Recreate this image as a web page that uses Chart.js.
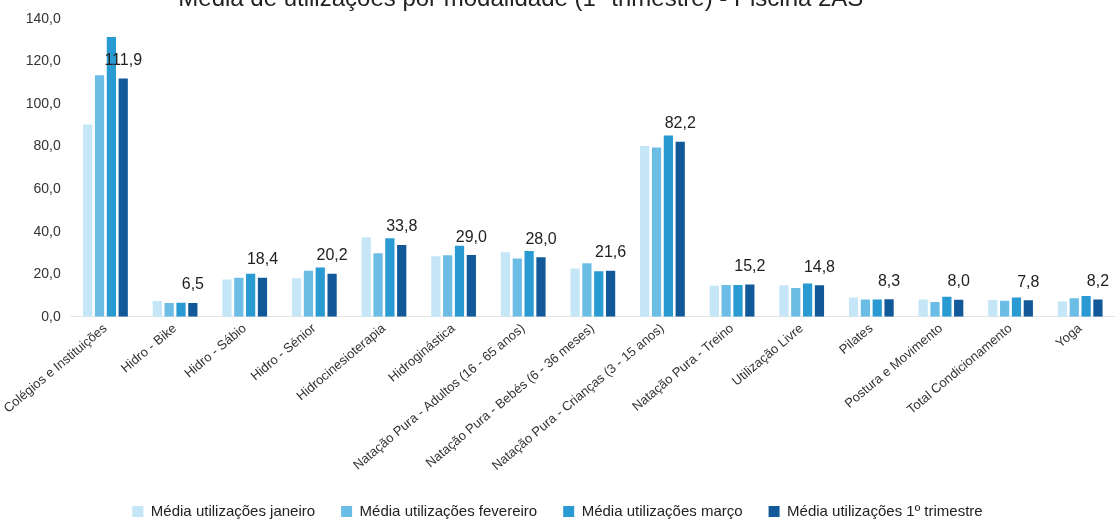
<!DOCTYPE html>
<html>
<head>
<meta charset="utf-8">
<script src="https://cdn.jsdelivr.net/npm/chart.js@4/dist/chart.umd.min.js"></script>
<style>
    html, body { margin: 0; padding: 0; background: #fff; }
    #wrap { width: 1115px; height: 519px; position: relative; }
</style>
</head>
<body>
<div id="wrap"><canvas id="usageChart"></canvas></div>
<script>
const categories = [
    'Colégios e Instituições',
    'Hidro - Bike',
    'Hidro - Sábio',
    'Hidro - Sénior',
    'Hidrocinesioterapia',
    'Hidroginástica',
    'Natação Pura - Adultos (16 - 65 anos)',
    'Natação Pura - Bebés (6 - 36 meses)',
    'Natação Pura - Crianças (3 - 15 anos)',
    'Natação Pura - Treino',
    'Utilização Livre',
    'Pilates',
    'Postura e Movimento',
    'Total Condicionamento',
    'Yoga'
];

const janeiro   = [90.3, 7.4, 17.6, 18.1, 37.4, 28.5, 30.3, 22.7, 80.2, 14.6, 14.8, 9.1, 8.1, 7.9, 7.2];
const fevereiro = [113.5, 6.5, 18.4, 21.6, 29.9, 28.9, 27.4, 25.2, 79.6, 15.0, 13.6, 8.1, 7.0, 7.6, 8.7];
const marco     = [131.5, 6.6, 20.3, 23.2, 36.9, 33.4, 30.9, 21.4, 85.2, 15.0, 15.7, 8.1, 9.5, 9.1, 9.8];
const trimestre = [111.9, 6.5, 18.4, 20.2, 33.8, 29.0, 28.0, 21.6, 82.2, 15.2, 14.8, 8.3, 8.0, 7.8, 8.2];

const seriesNames = [
    'Média utilizações janeiro',
    'Média utilizações fevereiro',
    'Média utilizações março',
    'Média utilizações 1º trimestre'
];

const yTicks = [0, 20, 40, 60, 80, 100, 120, 140];

const baseFont = '"Liberation Sans", Arial, sans-serif';

function fmt(v) {
    return Number(v).toFixed(1).replace('.', ',');
}

// labels only over the trimester bars
const valueLabels = {
    id: 'valueLabels',
    afterDatasetsDraw(chart) {
        const ctx = chart.ctx;
        const meta = chart.getDatasetMeta(3);
        ctx.save();
        ctx.font = '16px ' + baseFont;
        ctx.fillStyle = '#222';
        ctx.textAlign = 'center';
        ctx.textBaseline = 'bottom';
        meta.data.forEach((bar, i) => {
            ctx.fillText(fmt(trimestre[i]), bar.x, bar.y - 10);
        });
        ctx.restore();
    }
};

const ctx = document.getElementById('usageChart').getContext('2d');

new Chart(ctx, {
    type: 'bar',
    data: {
        labels: categories,
        datasets: [
            { label: seriesNames[0], data: janeiro,   backgroundColor: '#c4e6f7' },
            { label: seriesNames[1], data: fevereiro, backgroundColor: '#6cbde6' },
            { label: seriesNames[2], data: marco,     backgroundColor: '#2a9ad2' },
            { label: seriesNames[3], data: trimestre, backgroundColor: '#12599a' }
        ]
    },
    options: {
        responsive: true,
        maintainAspectRatio: false,
        animation: false,
        layout: { padding: { left: 0, right: 0, top: 0, bottom: -10 } },
        datasets: {
            bar: { categoryPercentage: 0.68, barPercentage: 0.78 }
        },
        plugins: {
            title: {
                display: true,
                // trailing spaces nudge the centred title left, like the original
                text: 'Média de utilizações por modalidade (1º trimestre) - Piscina 2AS\u00a0\u00a0\u00a0\u00a0\u00a0\u00a0\u00a0\u00a0\u00a0\u00a0\u00a0',
                color: '#222',
                font: { family: baseFont, size: 24, weight: 'normal' },
                padding: { top: -15, bottom: 5 }
            },
            legend: {
                position: 'bottom',
                labels: {
                    boxWidth: 11,
                    boxHeight: 11,
                    padding: 26,
                    color: '#222',
                    font: { family: baseFont, size: 15 }
                }
            },
            tooltip: { enabled: false }
        },
        scales: {
            x: {
                grid: { display: false, drawTicks: false },
                border: { color: '#e4e4e4' },
                ticks: {
                    color: '#333',
                    font: { family: baseFont, size: 13 },
                    padding: 4,
                    minRotation: 40,
                    maxRotation: 40,
                    autoSkip: false
                }
            },
            y: {
                min: 0,
                max: 140,
                grid: { display: false, drawTicks: false },
                border: { display: false },
                afterBuildTicks: axis => {
                    axis.ticks = yTicks.map(v => ({ value: v }));
                },
                ticks: {
                    color: '#333',
                    font: { family: baseFont, size: 14 },
                    padding: 10,
                    callback: v => fmt(v)
                }
            }
        }
    },
    plugins: [valueLabels]
});
</script>
</body>
</html>
